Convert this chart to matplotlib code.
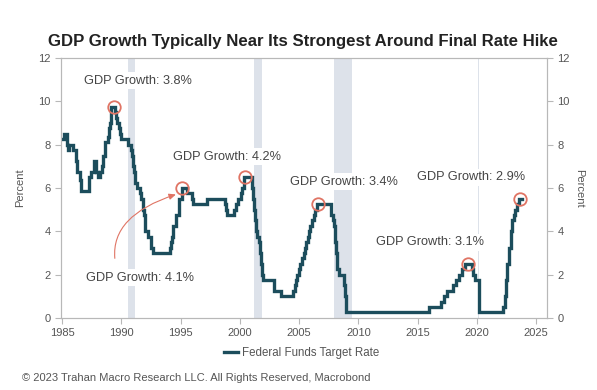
import matplotlib
matplotlib.use("Agg")
import matplotlib.pyplot as plt
import numpy as np

plt.rcParams['font.family'] = ['Liberation Sans', 'DejaVu Sans']

# Federal funds target rate (step changes): fractional year, rate %
dates = [1985.00, 1985.20, 1985.40, 1985.48, 1985.62, 1985.95, 1986.20, 1986.30, 1986.52, 1986.62,
         1987.30, 1987.40, 1987.70, 1987.82, 1987.90, 1988.05, 1988.22, 1988.38, 1988.48, 1988.62,
         1988.88, 1988.95, 1989.02, 1989.12, 1989.45, 1989.55, 1989.62, 1989.80, 1989.88, 1989.97,
         1990.55, 1990.80, 1990.88, 1990.95, 1991.02, 1991.10, 1991.18, 1991.33, 1991.60, 1991.70,
         1991.80, 1991.85, 1991.90, 1991.97, 1992.28, 1992.50, 1992.70, 1994.10, 1994.22, 1994.30,
         1994.38, 1994.62, 1994.87, 1995.09, 1995.52, 1995.97, 1996.08, 1997.23, 1998.75, 1998.80,
         1998.88, 1999.50, 1999.65, 1999.88, 2000.09, 2000.22, 2000.38, 2001.00, 2001.08, 2001.22,
         2001.30, 2001.38, 2001.48, 2001.64, 2001.71, 2001.80, 2001.85, 2001.95, 2002.85, 2003.48,
         2004.50, 2004.61, 2004.72, 2004.85, 2004.95, 2005.09, 2005.22, 2005.38, 2005.49, 2005.61,
         2005.72, 2005.85, 2005.95, 2006.08, 2006.22, 2006.36, 2006.49, 2007.72, 2007.83, 2007.95,
         2008.06, 2008.08, 2008.22, 2008.33, 2008.77, 2008.83, 2008.96, 2015.96, 2016.95, 2017.21,
         2017.46, 2017.96, 2018.22, 2018.47, 2018.73, 2018.97, 2019.58, 2019.71, 2019.83, 2020.17,
         2020.21, 2022.21, 2022.34, 2022.46, 2022.57, 2022.72, 2022.84, 2022.96, 2023.09, 2023.22,
         2023.34, 2023.57, 2023.80]
rates = [8.25, 8.50, 8.00, 7.75, 8.00, 7.75, 7.25, 6.75, 6.375, 5.875,
         6.50, 6.75, 7.25, 7.00, 6.75, 6.50, 6.75, 7.00, 7.50, 8.125,
         8.375, 8.75, 9.00, 9.75, 9.50, 9.25, 9.00, 8.75, 8.50, 8.25,
         8.00, 7.75, 7.50, 7.25, 7.00, 6.75, 6.25, 6.00, 5.75, 5.50,
         5.25, 5.00, 4.75, 4.00, 3.75, 3.25, 3.00, 3.25, 3.50, 3.75,
         4.25, 4.75, 5.50, 6.00, 5.75, 5.50, 5.25, 5.50, 5.25, 5.00,
         4.75, 5.00, 5.25, 5.50, 5.75, 6.00, 6.50, 6.00, 5.50, 5.00,
         4.50, 4.00, 3.75, 3.50, 3.00, 2.50, 2.00, 1.75, 1.25, 1.00,
         1.25, 1.50, 1.75, 2.00, 2.25, 2.50, 2.75, 3.00, 3.25, 3.50,
         3.75, 4.00, 4.25, 4.50, 4.75, 5.00, 5.25, 4.75, 4.50, 4.25,
         3.50, 3.00, 2.25, 2.00, 1.50, 1.00, 0.25, 0.50, 0.75, 1.00,
         1.25, 1.50, 1.75, 2.00, 2.25, 2.50, 2.25, 2.00, 1.75, 1.25,
         0.25, 0.50, 1.00, 1.75, 2.50, 3.25, 4.00, 4.50, 4.75, 5.00,
         5.25, 5.50, 5.50]

# Recessions (start, end)
rec_start = [1990.55, 2001.20, 2007.92, 2020.08]
rec_end = [1991.15, 2001.85, 2009.42, 2020.20]

# Final-hike peaks and labels
peak_x = [1989.37, 1995.15, 2000.45, 2006.55, 2019.25, 2023.62]
peak_y = [9.75, 6.00, 6.50, 5.25, 2.50, 5.50]
ann_text = ["GDP Growth: 3.8%", "GDP Growth: 4.2%", "GDP Growth: 3.4%",
            "GDP Growth: 2.9%", "GDP Growth: 3.1%", "GDP Growth: 4.1%"]
ann_x = [1991.4, 1998.9, 2008.8, 2019.5, 2016.0, 1991.6]
ann_y = [10.95, 7.45, 6.28, 6.5, 3.5, 1.85]

xticks = [1985, 1990, 1995, 2000, 2005, 2010, 2015, 2020, 2025]
yticks = [0, 2, 4, 6, 8, 10, 12]

line_color = '#1c4d5c'
red = '#e07464'
grey_txt = '#555555'
spine_c = '#b8b8b8'

fig = plt.figure(figsize=(5.97, 3.90), dpi=100)
ax = fig.add_axes([0.102, 0.185, 0.814, 0.666])

for s, e in zip(rec_start, rec_end):
    ax.axvspan(s, e, color='#dde2ea', lw=0, zorder=1)

ax.plot(dates, rates, drawstyle='steps-post', color=line_color, lw=2.4, zorder=3,
        solid_joinstyle='miter', label='Federal Funds Target Rate')
ax.plot(peak_x, peak_y, 'o', ms=9, mfc='none', mec=red, mew=1.3, zorder=4)

for t, x, y in zip(ann_text, ann_x, ann_y):
    ax.text(x, y, t, ha='center', va='center', fontsize=9.2, color='#444444', zorder=2.5,
            bbox=dict(boxstyle='square,pad=0.2', fc='white', ec='none'))

ax.annotate('', xy=(1994.6, 5.7), xytext=(1989.45, 2.75),
            arrowprops=dict(arrowstyle='-|>,head_length=0.4,head_width=0.18', color=red, lw=0.8,
                            connectionstyle='angle3,angleA=95,angleB=18',
                            shrinkA=0, shrinkB=0), zorder=4)

ax.set_xlim(1984.9, 2025.9)
ax.set_ylim(0, 12)
ax.set_xticks(xticks)
ax.set_yticks(yticks)
ax.tick_params(axis='both', colors=spine_c, labelcolor=grey_txt, labelsize=8, length=4, width=0.8)
ax.set_ylabel('Percent', fontsize=8, color=grey_txt, labelpad=9)
for sp in ax.spines.values():
    sp.set_color(spine_c)
    sp.set_linewidth(0.8)

ax2 = ax.twinx()
ax2.set_ylim(0, 12)
ax2.set_yticks(yticks)
ax2.tick_params(axis='y', colors=spine_c, labelcolor=grey_txt, labelsize=8, length=4, width=0.8)
ax2.set_ylabel('Percent', fontsize=8, color=grey_txt, rotation=270, labelpad=10)
for sp in ax2.spines.values():
    sp.set_color(spine_c)
    sp.set_linewidth(0.8)

fig.text(0.508, 0.893, 'GDP Growth Typically Near Its Strongest Around Final Rate Hike',
         ha='center', va='center', fontsize=12.1, fontweight='bold', color='#222222')

h, l = ax.get_legend_handles_labels()
fig.legend(h, l, loc='center', bbox_to_anchor=(0.505, 0.095), frameon=False, fontsize=8.3,
           handlelength=1.2, handletextpad=0.3, labelcolor=grey_txt)

fig.text(0.037, 0.03, '\u00a9 2023 Trahan Macro Research LLC. All Rights Reserved, Macrobond',
         ha='left', va='center', fontsize=8, color=grey_txt)

fig.savefig('out.png', dpi=100, facecolor='white')
